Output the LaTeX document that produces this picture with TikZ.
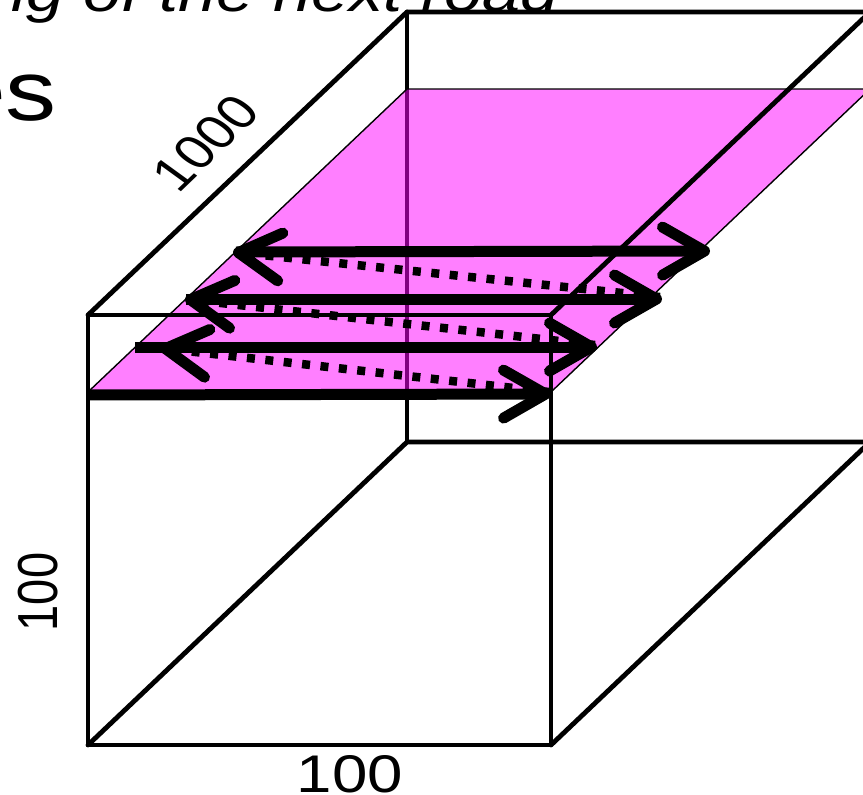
\documentclass[tikz,border=0pt]{standalone}
\usepackage{fontspec}
\setmainfont{Liberation Sans}
\usetikzlibrary{arrows.meta}
\definecolor{planemag}{RGB}{255,0,255}
\begin{document}
\begin{tikzpicture}[x=1pt,y=-1pt,
  edge/.style={line width=4.8pt, line cap=round, line join=round},
  plane/.style={fill=planemag, fill opacity=0.5, draw=black, line width=1.4pt},
  barb/.tip={Straight Barb[length=42pt,width=48pt,line width=11pt,line cap=round,line join=round]},
  pass/.style={line width=11pt, -barb},
  retrace/.style={line width=8.5pt, dash pattern=on 8pt off 10.5pt, -barb},
  lab/.style={inner sep=0pt, xscale=1.2}
]
\useasboundingbox (0,0) rectangle (863,795);
\clip (0,0) rectangle (863,795);
% cube corners
\coordinate (FTL) at (88,315);
\coordinate (FTR) at (551,315);
\coordinate (FBL) at (88,745);
\coordinate (FBR) at (551,745);
\coordinate (BTL) at (407,12);
\coordinate (BTR) at (870,12);
\coordinate (BBL) at (407,442);
\coordinate (BBR) at (870,442);
% plane corners
\coordinate (P1) at (88,392);
\coordinate (P2) at (551,392);
\coordinate (P3) at (870,89);
\coordinate (P4) at (407,89);
% hidden back edge (under the plane)
\draw[edge] (BTL) -- (BBL);
% the plane
\filldraw[plane] (P1) -- (P2) -- (P3) -- (P4) -- cycle;
% remaining edges
\draw[edge] (FTL) rectangle (FBR);
\draw[edge] (FTL) -- (BTL) -- (BTR) -- (BBR);
\draw[edge] (FTR) -- (BTR);
\draw[edge] (FBR) -- (BBR) -- (BBL) -- (FBL);
% path points
\coordinate (r1a) at (88,395);  \coordinate (r1b) at (551,394);
\coordinate (r2a) at (135,347); \coordinate (r2b) at (597,347);
\coordinate (r3a) at (186,299); \coordinate (r3b) at (662,299);
\coordinate (r4a) at (236,252); \coordinate (r4b) at (710,251);
\coordinate (d1s) at (549,392); \coordinate (d1e) at (160,348);
\coordinate (d2s) at (595,345); \coordinate (d2e) at (185,299);
\coordinate (d3s) at (660,297); \coordinate (d3e) at (233,252);
% solid passes
\draw[pass] (r1a) -- (r1b);
\draw[pass] (r2a) -- (r2b);
\draw[pass] (r3a) -- (r3b);
\draw[pass] (r4a) -- (r4b);
% dotted retraces
\draw[retrace] (d1s) -- (d1e);
\draw[retrace] (d2s) -- (d2e);
\draw[retrace] (d3s) -- (d3e);
% texts
\node[lab, font=\fontsize{57}{60}\selectfont\itshape, anchor=base east] (title) at (559,11) {ng of the next road};
\node[lab, font=\fontsize{85}{90}\selectfont, anchor=base east] (es) at (57,120) {es};
\node[lab, rotate=49, font=\fontsize{48}{50}\selectfont] (l1000) at (206,143) {1000};
\node[lab, rotate=90, font=\fontsize{47}{50}\selectfont] (ldepth) at (38,592) {100};
\node[lab, font=\fontsize{53}{55}\selectfont, anchor=base] (lwidth) at (350,792) {100};
\end{tikzpicture}
\end{document}
